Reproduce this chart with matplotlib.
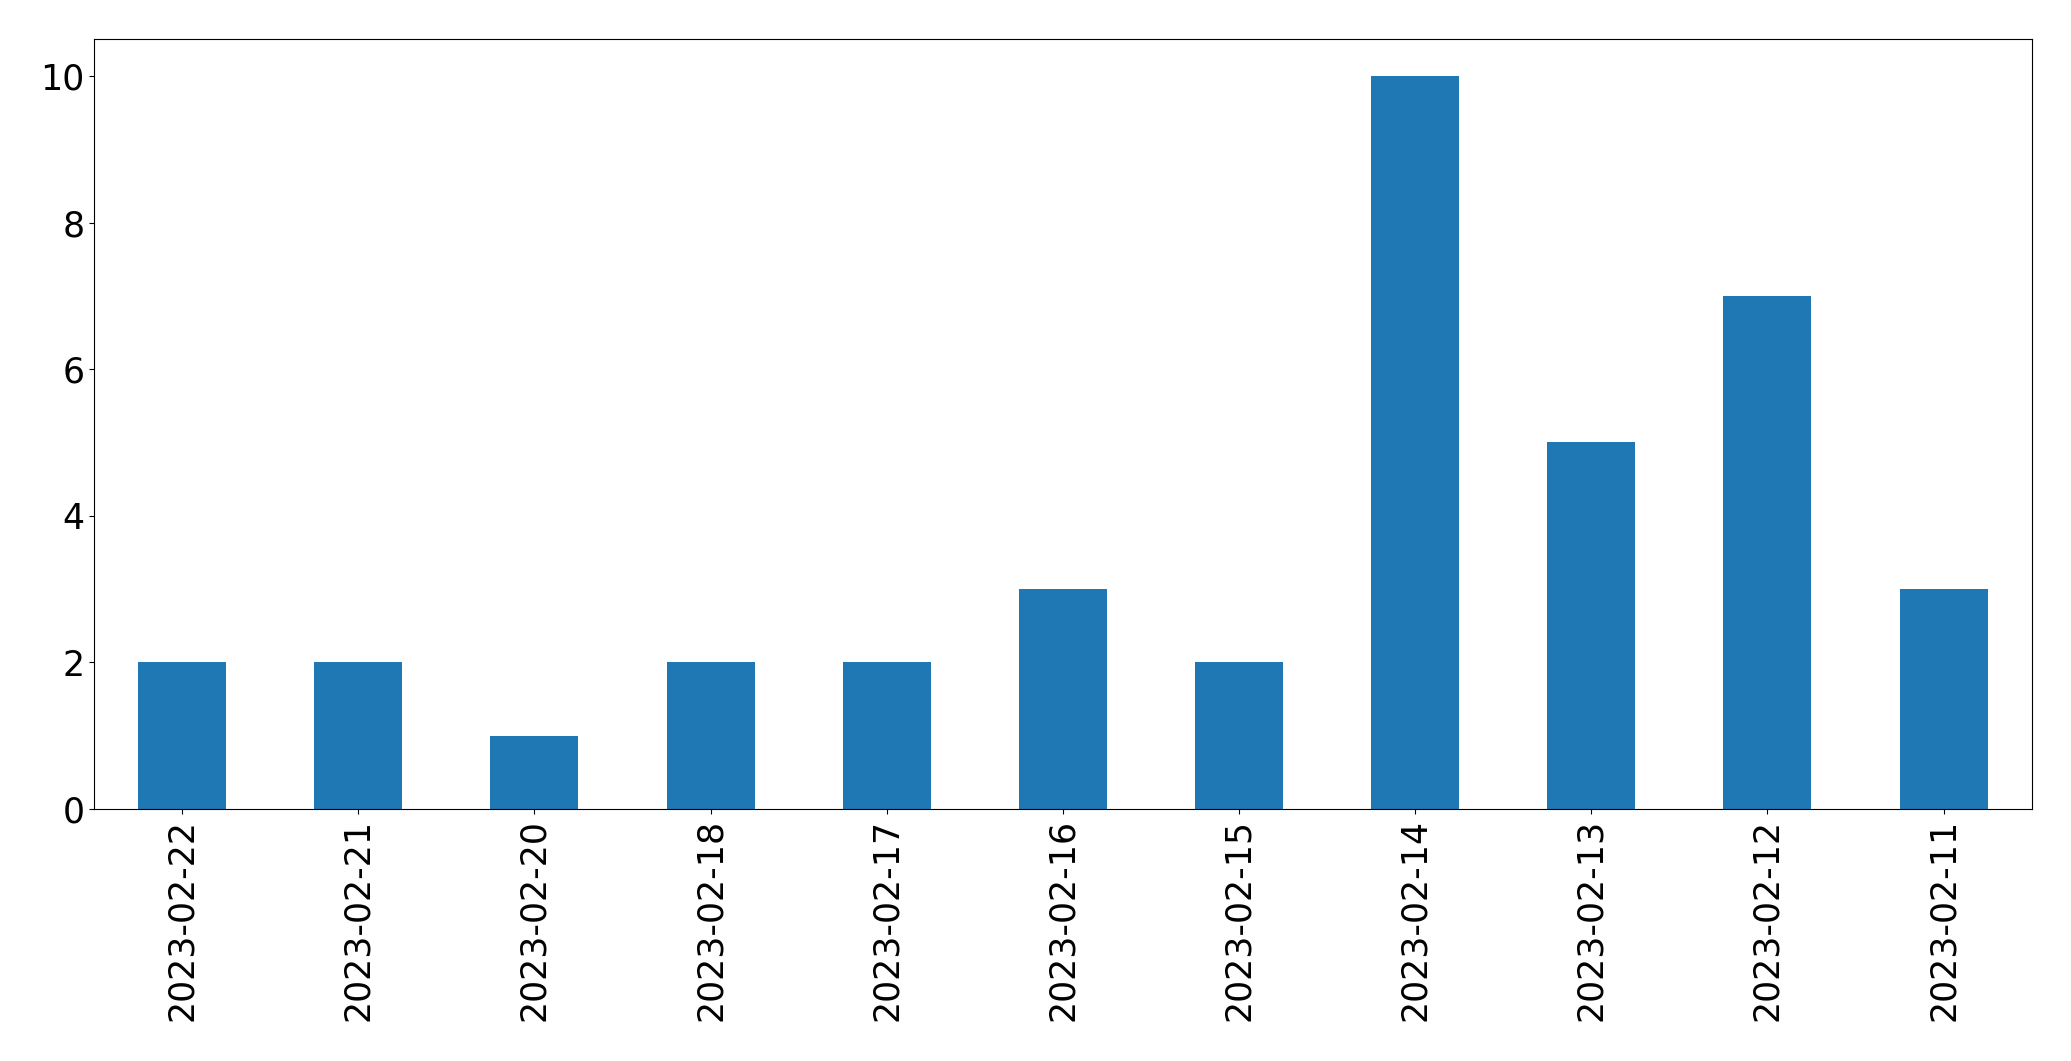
import matplotlib
matplotlib.use('Agg')
import matplotlib.pyplot as plt
import pandas as pd

dates = ['2023-02-22', '2023-02-21', '2023-02-20', '2023-02-18', '2023-02-17',
         '2023-02-16', '2023-02-15', '2023-02-14', '2023-02-13', '2023-02-12',
         '2023-02-11']
counts = [2, 2, 1, 2, 2, 3, 2, 10, 5, 7, 3]

s = pd.Series(counts, index=dates)

fig, ax = plt.subplots(figsize=(20.71, 10.61), dpi=100)
s.plot(kind='bar', ax=ax, color='#1f77b4', fontsize=25)
ax.set_ylim(0, 10.5)
plt.subplots_adjust(left=0.0454, right=0.981, top=0.963, bottom=0.2375)
plt.savefig('out.png', dpi=100)
